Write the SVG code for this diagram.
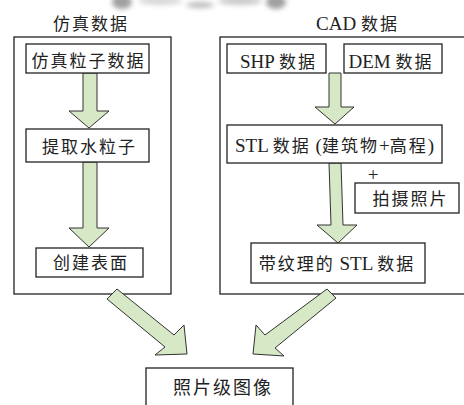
<svg xmlns="http://www.w3.org/2000/svg" width="464" height="405" viewBox="0 0 464 405">
<defs>
<style>
.frame{fill:none;stroke:#222;stroke-width:1.3}
.box{fill:#fff;stroke:#222;stroke-width:1.3}
.arrow{fill:#d6e8c6;stroke:#333;stroke-width:1;stroke-linejoin:miter}
text{font-family:"Liberation Serif","Noto Sans CJK SC",serif;font-size:17px;letter-spacing:2px;fill:#222;text-anchor:middle}
.l{font-size:19px;letter-spacing:0}
</style>
<filter id="blur" x="-50%" y="-200%" width="200%" height="500%"><feGaussianBlur stdDeviation="2.5"/></filter>
</defs>
<rect width="464" height="405" fill="#fff"/>
<g id="photo-strip" filter="url(#blur)" opacity="0.8">
<ellipse cx="122" cy="2" rx="10" ry="7" fill="#888"/>
<ellipse cx="160" cy="1" rx="22" ry="4" fill="#ccc"/>
<ellipse cx="200" cy="5" rx="14" ry="3" fill="#aaa"/>
<ellipse cx="240" cy="1" rx="22" ry="4" fill="#bbb"/>
<ellipse cx="276" cy="2" rx="10" ry="7" fill="#888"/>
</g>
<g id="left-group">
<rect class="frame" x="14" y="37" width="157" height="257"/>
<text x="91" y="29.5">仿真数据</text>
</g>
<g id="right-group">
<rect class="frame" x="220" y="37" width="250" height="257"/>
<text x="357.5" y="29.5"><tspan class="l">CAD </tspan>数据</text>
</g>
<g id="connectors">
<polygon class="arrow" points="83,73 97,73 97,111 109,111 89,128 69,111 83,111"/>
<polygon class="arrow" points="83,162 97,162 97,228 109,228 89,247 69,228 83,228"/>
<polygon class="arrow" points="329,73 341,73 341,107 354,107 335,124 315,107 329,107"/>
<polygon class="arrow" points="329,163 341,163 343,225 357,225 338,243 317,225 331,225"/>
<polygon class="arrow" points="117,289 174,335 184,325 187,354 155,355 165,347 107,299"/>
<polygon class="arrow" points="327,289 265,335 256,325 253,354 284,356 275,348 336,298"/>
</g>
<g id="sim-particles">
<rect class="box" x="26" y="44" width="123" height="29"/>
<text x="88.5" y="66.5">仿真粒子数据</text>
</g>
<g id="extract-water">
<rect class="box" x="26" y="129" width="123" height="33"/>
<text x="89.5" y="152.5">提取水粒子</text>
</g>
<g id="create-surface">
<rect class="box" x="36" y="248" width="107" height="29"/>
<text x="91" y="268.5">创建表面</text>
</g>
<g id="shp">
<rect class="box" x="227" y="44" width="99" height="29"/>
<text x="278.5" y="67.5"><tspan class="l">SHP </tspan>数据</text>
</g>
<g id="dem">
<rect class="box" x="344" y="44" width="98" height="29"/>
<text x="391" y="67.5"><tspan class="l">DEM </tspan>数据</text>
</g>
<g id="stl">
<rect class="box" x="227" y="125" width="215" height="38"/>
<text x="334.5" y="151.5"><tspan class="l">STL </tspan>数据<tspan class="l"> (</tspan>建筑物<tspan class="l">+</tspan>高程<tspan class="l">)</tspan></text>
</g>
<g id="plus-photo">
<text x="373" y="181" class="l">+</text>
<rect class="box" x="355" y="183" width="104" height="30"/>
<text x="410.5" y="204.5">拍摄照片</text>
</g>
<g id="textured-stl">
<rect class="box" x="251" y="243" width="174" height="40"/>
<text x="337" y="270">带纹理的<tspan class="l"> STL </tspan>数据</text>
</g>
<g id="photo-image">
<rect class="box" x="146" y="368" width="147" height="45"/>
<text x="223" y="394" style="font-size:18px">照片级图像</text>
</g>
</svg>
